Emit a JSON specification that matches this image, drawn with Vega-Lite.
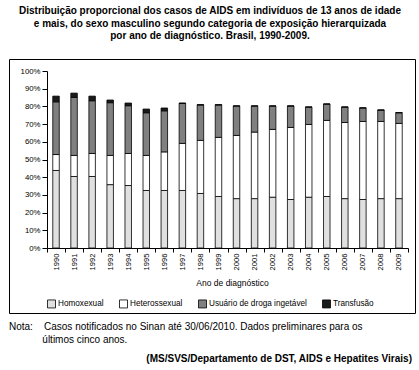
{
  "$schema": "https://vega.github.io/schema/vega-lite/v6.json",
  "padding": {"left": 4, "top": 5, "right": 0, "bottom": 0},
  "config": {
    "font": "Liberation Sans",
    "view": {"stroke": null},
    "axis": {"grid": false, "domainColor": "#000", "tickColor": "#000", "labelColor": "#000", "titleColor": "#000", "labelFont": "Liberation Sans", "titleFont": "Liberation Sans"},
    "legend": {"labelColor": "#000", "labelFont": "Liberation Sans", "padding": 0},
    "title": {"color": "#000", "font": "Liberation Sans"}
  },
  "title": {
    "text": [
      "Distribuição proporcional dos casos de AIDS em indivíduos de 13 anos de idade",
      "e mais, do sexo masculino segundo categoria de exposição hierarquizada",
      "por ano de diagnóstico. Brasil, 1990-2009."
    ],
    "anchor": "middle",
    "fontSize": 10,
    "fontWeight": "bold",
    "lineHeight": 12.8,
    "offset": 17
  },
  "spacing": 8,
  "datasets": {
    "casos": [
      {"ano": "1990", "cat": "Homoxexual", "ordem": 1, "pct": 43.8}, {"ano": "1990", "cat": "Heterossexual", "ordem": 2, "pct": 9.0}, {"ano": "1990", "cat": "Usuário de droga ingetável", "ordem": 3, "pct": 29.8}, {"ano": "1990", "cat": "Transfusão", "ordem": 4, "pct": 3.2},
      {"ano": "1991", "cat": "Homoxexual", "ordem": 1, "pct": 40.4}, {"ano": "1991", "cat": "Heterossexual", "ordem": 2, "pct": 11.9}, {"ano": "1991", "cat": "Usuário de droga ingetável", "ordem": 3, "pct": 32.8}, {"ano": "1991", "cat": "Transfusão", "ordem": 4, "pct": 2.4},
      {"ano": "1992", "cat": "Homoxexual", "ordem": 1, "pct": 40.4}, {"ano": "1992", "cat": "Heterossexual", "ordem": 2, "pct": 13.0}, {"ano": "1992", "cat": "Usuário de droga ingetável", "ordem": 3, "pct": 29.8}, {"ano": "1992", "cat": "Transfusão", "ordem": 4, "pct": 2.6},
      {"ano": "1993", "cat": "Homoxexual", "ordem": 1, "pct": 35.8}, {"ano": "1993", "cat": "Heterossexual", "ordem": 2, "pct": 16.5}, {"ano": "1993", "cat": "Usuário de droga ingetável", "ordem": 3, "pct": 29.8}, {"ano": "1993", "cat": "Transfusão", "ordem": 4, "pct": 1.5},
      {"ano": "1994", "cat": "Homoxexual", "ordem": 1, "pct": 35.3}, {"ano": "1994", "cat": "Heterossexual", "ordem": 2, "pct": 18.1}, {"ano": "1994", "cat": "Usuário de droga ingetável", "ordem": 3, "pct": 27.0}, {"ano": "1994", "cat": "Transfusão", "ordem": 4, "pct": 1.5},
      {"ano": "1995", "cat": "Homoxexual", "ordem": 1, "pct": 32.5}, {"ano": "1995", "cat": "Heterossexual", "ordem": 2, "pct": 19.8}, {"ano": "1995", "cat": "Usuário de droga ingetável", "ordem": 3, "pct": 24.1}, {"ano": "1995", "cat": "Transfusão", "ordem": 4, "pct": 2.1},
      {"ano": "1996", "cat": "Homoxexual", "ordem": 1, "pct": 32.5}, {"ano": "1996", "cat": "Heterossexual", "ordem": 2, "pct": 21.8}, {"ano": "1996", "cat": "Usuário de droga ingetável", "ordem": 3, "pct": 23.2}, {"ano": "1996", "cat": "Transfusão", "ordem": 4, "pct": 1.6},
      {"ano": "1997", "cat": "Homoxexual", "ordem": 1, "pct": 32.5}, {"ano": "1997", "cat": "Heterossexual", "ordem": 2, "pct": 26.6}, {"ano": "1997", "cat": "Usuário de droga ingetável", "ordem": 3, "pct": 22.6}, {"ano": "1997", "cat": "Transfusão", "ordem": 4, "pct": 0.2},
      {"ano": "1998", "cat": "Homoxexual", "ordem": 1, "pct": 30.8}, {"ano": "1998", "cat": "Heterossexual", "ordem": 2, "pct": 30.0}, {"ano": "1998", "cat": "Usuário de droga ingetável", "ordem": 3, "pct": 20.0}, {"ano": "1998", "cat": "Transfusão", "ordem": 4, "pct": 0.2},
      {"ano": "1999", "cat": "Homoxexual", "ordem": 1, "pct": 29.1}, {"ano": "1999", "cat": "Heterossexual", "ordem": 2, "pct": 33.4}, {"ano": "1999", "cat": "Usuário de droga ingetável", "ordem": 3, "pct": 18.3}, {"ano": "1999", "cat": "Transfusão", "ordem": 4, "pct": 0.2},
      {"ano": "2000", "cat": "Homoxexual", "ordem": 1, "pct": 27.9}, {"ano": "2000", "cat": "Heterossexual", "ordem": 2, "pct": 35.7}, {"ano": "2000", "cat": "Usuário de droga ingetável", "ordem": 3, "pct": 16.6}, {"ano": "2000", "cat": "Transfusão", "ordem": 4, "pct": 0.1},
      {"ano": "2001", "cat": "Homoxexual", "ordem": 1, "pct": 27.9}, {"ano": "2001", "cat": "Heterossexual", "ordem": 2, "pct": 37.6}, {"ano": "2001", "cat": "Usuário de droga ingetável", "ordem": 3, "pct": 14.7}, {"ano": "2001", "cat": "Transfusão", "ordem": 4, "pct": 0.1},
      {"ano": "2002", "cat": "Homoxexual", "ordem": 1, "pct": 28.7}, {"ano": "2002", "cat": "Heterossexual", "ordem": 2, "pct": 38.3}, {"ano": "2002", "cat": "Usuário de droga ingetável", "ordem": 3, "pct": 13.2}, {"ano": "2002", "cat": "Transfusão", "ordem": 4, "pct": 0.1},
      {"ano": "2003", "cat": "Homoxexual", "ordem": 1, "pct": 27.4}, {"ano": "2003", "cat": "Heterossexual", "ordem": 2, "pct": 40.7}, {"ano": "2003", "cat": "Usuário de droga ingetável", "ordem": 3, "pct": 12.1}, {"ano": "2003", "cat": "Transfusão", "ordem": 4, "pct": 0.1},
      {"ano": "2004", "cat": "Homoxexual", "ordem": 1, "pct": 28.7}, {"ano": "2004", "cat": "Heterossexual", "ordem": 2, "pct": 41.1}, {"ano": "2004", "cat": "Usuário de droga ingetável", "ordem": 3, "pct": 9.8}, {"ano": "2004", "cat": "Transfusão", "ordem": 4, "pct": 0.1},
      {"ano": "2005", "cat": "Homoxexual", "ordem": 1, "pct": 29.1}, {"ano": "2005", "cat": "Heterossexual", "ordem": 2, "pct": 43.0}, {"ano": "2005", "cat": "Usuário de droga ingetável", "ordem": 3, "pct": 9.2}, {"ano": "2005", "cat": "Transfusão", "ordem": 4, "pct": 0.1},
      {"ano": "2006", "cat": "Homoxexual", "ordem": 1, "pct": 27.9}, {"ano": "2006", "cat": "Heterossexual", "ordem": 2, "pct": 43.0}, {"ano": "2006", "cat": "Usuário de droga ingetável", "ordem": 3, "pct": 8.7}, {"ano": "2006", "cat": "Transfusão", "ordem": 4, "pct": 0.1},
      {"ano": "2007", "cat": "Homoxexual", "ordem": 1, "pct": 27.4}, {"ano": "2007", "cat": "Heterossexual", "ordem": 2, "pct": 44.1}, {"ano": "2007", "cat": "Usuário de droga ingetável", "ordem": 3, "pct": 7.6}, {"ano": "2007", "cat": "Transfusão", "ordem": 4, "pct": 0.1},
      {"ano": "2008", "cat": "Homoxexual", "ordem": 1, "pct": 27.9}, {"ano": "2008", "cat": "Heterossexual", "ordem": 2, "pct": 43.6}, {"ano": "2008", "cat": "Usuário de droga ingetável", "ordem": 3, "pct": 6.4}, {"ano": "2008", "cat": "Transfusão", "ordem": 4, "pct": 0.1},
      {"ano": "2009", "cat": "Homoxexual", "ordem": 1, "pct": 27.9}, {"ano": "2009", "cat": "Heterossexual", "ordem": 2, "pct": 42.5}, {"ano": "2009", "cat": "Usuário de droga ingetável", "ordem": 3, "pct": 6.0}, {"ano": "2009", "cat": "Transfusão", "ordem": 4, "pct": 0.1}
    ]
  },
  "vconcat": [
    {
      "width": 406,
      "height": 254,
      "view": {"stroke": "#000", "strokeWidth": 1},
      "title": {
        "text": [
          "Nota:\u00a0\u00a0\u00a0\u00a0Casos notificados no Sinan até 30/06/2010. Dados preliminares para os",
          "\u200b\u00a0\u00a0\u00a0\u00a0\u00a0\u00a0\u00a0\u00a0\u00a0\u00a0\u00a0\u00a0últimos cinco anos."
        ],
        "orient": "bottom",
        "anchor": "start",
        "fontSize": 10,
        "fontWeight": "normal",
        "lineHeight": 12.7,
        "dx": 4,
        "offset": 9
      },
      "data": {"name": "casos"},
      "mark": {"type": "bar", "width": 6.5, "stroke": "#000", "strokeWidth": 0.8},
      "encoding": {
        "x": {
          "field": "ano",
          "type": "ordinal",
          "scale": {"range": [38, 399], "paddingInner": 0, "paddingOuter": 0},
          "axis": {
            "title": "Ano de diagnóstico",
            "titleFontSize": 8.5,
            "titleFontWeight": "normal",
            "titlePadding": 9,
            "titleX": 223,
            "labelAngle": -90,
            "labelFontSize": 7.6,
            "labelPadding": 1,
            "tickSize": 4,
            "tickBand": "extent",
            "offset": -65
          }
        },
        "y": {
          "field": "pct",
          "type": "quantitative",
          "stack": "zero",
          "scale": {"domain": [0, 100], "range": [189, 12]},
          "axis": {
            "title": null,
            "values": [0, 10, 20, 30, 40, 50, 60, 70, 80, 90, 100],
            "labelExpr": "datum.value + '%'",
            "labelFontSize": 7.8,
            "labelPadding": 2,
            "tickSize": 5,
            "offset": -38
          }
        },
        "order": {"field": "ordem", "type": "quantitative", "sort": "ascending"},
        "color": {
          "field": "cat",
          "type": "nominal",
          "scale": {
            "domain": ["Homoxexual", "Heterossexual", "Usuário de droga ingetável", "Transfusão"],
            "range": ["#e0e0e0", "#ffffff", "#808080", "#1a1a1a"]
          },
          "legend": {
            "title": null,
            "orient": "none",
            "direction": "horizontal",
            "legendX": 38,
            "legendY": 240,
            "symbolType": "square",
            "symbolSize": 64,
            "symbolStrokeColor": "#000",
            "symbolStrokeWidth": 0.8,
            "labelFontSize": 8.2,
            "labelOffset": 2,
            "columnPadding": 13
          }
        }
      }
    },
    {
      "width": 406,
      "height": 1,
      "view": {"stroke": null},
      "title": {
        "text": "(MS/SVS/Departamento de DST, AIDS e Hepatites Virais)",
        "orient": "top",
        "anchor": "end",
        "fontSize": 10,
        "fontWeight": "bold",
        "dx": -3,
        "offset": 0
      },
      "data": {"values": []},
      "mark": "point",
      "encoding": {}
    }
  ]
}
